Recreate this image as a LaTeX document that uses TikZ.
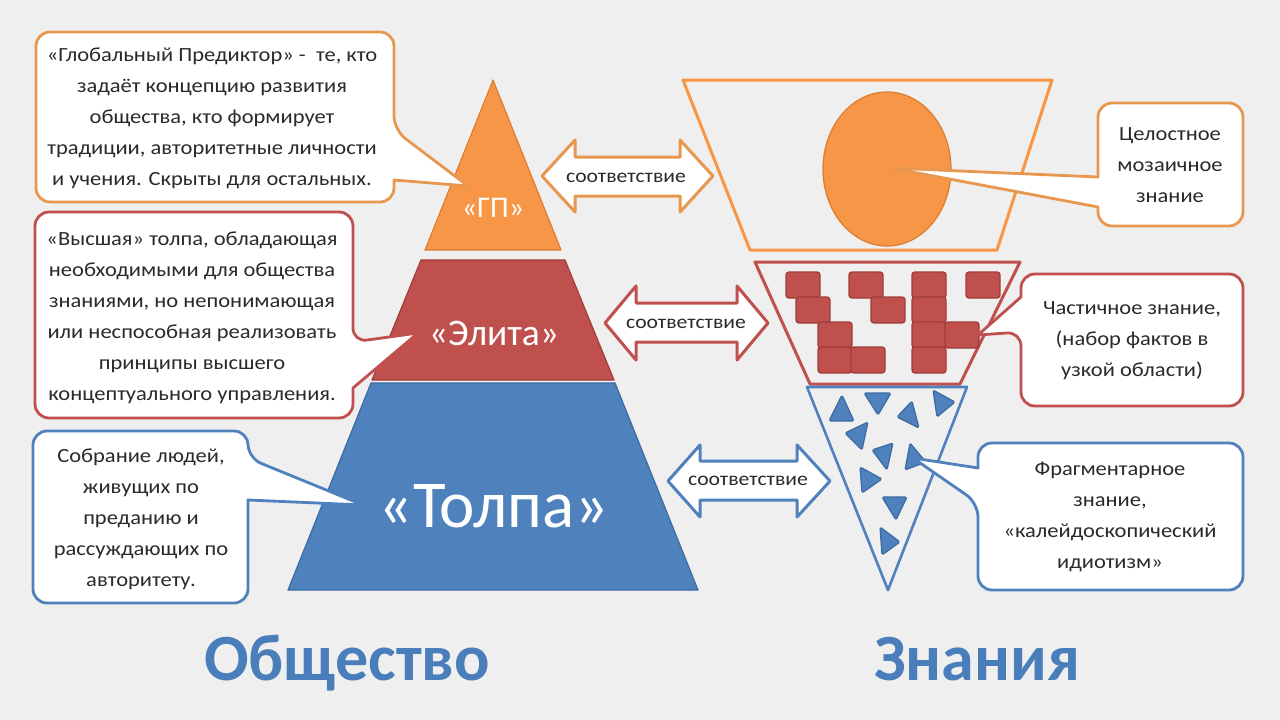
\documentclass[tikz,border=0pt]{standalone}
\usepackage{fontspec}
\setmainfont{Carlito}
\newfontfamily\cf[FakeStretch=1.12]{Carlito}
\definecolor{bg}{HTML}{EFEFEF}
\definecolor{org}{HTML}{F79646}
\definecolor{orgD}{HTML}{DD7F33}
\definecolor{orgL}{HTML}{E8984E}
\definecolor{redF}{HTML}{C0504D}
\definecolor{redD}{HTML}{A03D3A}
\definecolor{bluF}{HTML}{4F81BD}
\definecolor{bluD}{HTML}{3C6AA3}
\definecolor{txt}{HTML}{2A2A2A}
\definecolor{ttl}{HTML}{4A7EBB}
\newcommand\mytile[2]{\filldraw[tilestyle] (#1,#2) rectangle ++(34,26);}
\newcommand\mytri[3]{\filldraw[tristyle] #1 -- #2 -- #3 -- cycle;}
\tikzset{
  tilestyle/.style={fill=redF, draw=redD, line width=1.4, rounded corners=3},
  tristyle/.style={fill=bluF, draw=bluD, line width=1.2, rounded corners=1.5, line join=round},
  pyr/.style={line width=1.2, line join=round},
  funnel/.style={line width=3, line join=round},
  callO/.style={fill=white, draw=orgL, line width=2.8, line join=round},
  callR/.style={fill=white, draw=redF, line width=2.8, line join=round},
  callB/.style={fill=white, draw=bluF, line width=2.8, line join=round},
  calltext/.style={align=center, text=txt, font=\cf\fontsize{20.1}{31}\selectfont, inner sep=0},
  arrtext/.style={text=txt, font=\cf\fontsize{19.3}{22}\selectfont, inner sep=0},
  lvl/.style={text=white, anchor=base, inner sep=0},
  ttlstyle/.style={text=ttl, anchor=base, inner sep=0, font=\bfseries\fontsize{66}{72}\selectfont}
}
\begin{document}
\begin{tikzpicture}[x=1pt,y=-1pt]
\fill[bg] (0,0) rectangle (1280,720);
\useasboundingbox (0,0) rectangle (1280,720);

% ---------- pyramid ----------
\filldraw[pyr, fill=org, draw=orgD] (493,80) -- (561,250) -- (425,250) -- cycle;
\filldraw[pyr, fill=redF, draw=redD] (421,260) -- (565,260) -- (614,380) -- (372,380) -- cycle;
\filldraw[pyr, fill=bluF, draw=bluD] (371,383) -- (615,383) -- (698,590) -- (288,590) -- cycle;
\node[lvl, font=\fontsize{30}{32}\selectfont] (gp) at (493,217) {«ГП»};
\node[lvl, font=\fontsize{37.5}{40}\selectfont] (elita) at (494,345) {«Элита»};
\node[lvl, font=\fontsize{67}{72}\selectfont] (tolpa) at (494,527) {«Толпа»};

% ---------- funnel ----------
\draw[funnel, draw=org] (683,80) -- (1052,80) -- (997,250) -- (750,250) -- cycle;
\draw[funnel, draw=redF] (755,262) -- (1020,262) -- (960,384) -- (810,384) -- cycle;
\draw[funnel, draw=bluF, line width=2.6] (807,387) -- (967,387) -- (888,590) -- cycle;

\filldraw[fill=org, draw=orgD, line width=1.3] (887,169) ellipse [x radius=64, y radius=77];

% tiles
\mytile{786}{272}\mytile{796}{297}\mytile{818}{322}\mytile{818}{347}\mytile{851}{347}
\mytile{849}{272}\mytile{871}{297}
\mytile{912}{272}\mytile{912}{297}\mytile{912}{322}\mytile{912}{347}\mytile{945}{322}
\mytile{966}{272}

% triangles
\mytri{(842,395)}{(854,421)}{(829,421)}
\mytri{(864,393)}{(891,393)}{(878,415)}
\mytri{(912,401)}{(897,417)}{(919,428)}
\mytri{(933,390)}{(955,402)}{(937,417)}
\mytri{(868,422)}{(845,433)}{(862,450)}
\mytri{(872,450)}{(893,443)}{(887,470)}
\mytri{(910,443)}{(926,462)}{(905,470)}
\mytri{(860,467)}{(882,479)}{(862,493)}
\mytri{(882,497)}{(907,497)}{(896,520)}
\mytri{(880,527)}{(900,542)}{(882,555)}

% ---------- correspondence arrows ----------
\filldraw[fill=white, draw=orgL, line width=3, line join=round]
  (542,176) -- (575,140) -- (575,157) -- (680,157) -- (680,140) -- (713,176)
  -- (680,212) -- (680,196) -- (575,196) -- (575,212) -- cycle;
\node[arrtext] (a1) at (626,178) {соответствие};
\filldraw[fill=white, draw=redF, line width=3, line join=round]
  (605,323) -- (636,286) -- (636,303) -- (737,303) -- (737,286) -- (768,323)
  -- (737,360) -- (737,342) -- (636,342) -- (636,360) -- cycle;
\node[arrtext] (a2) at (686,324) {соответствие};
\filldraw[fill=white, draw=bluF, line width=3, line join=round]
  (668,481) -- (700,445) -- (700,461) -- (797,461) -- (797,445) -- (830,481)
  -- (797,517) -- (797,500) -- (700,500) -- (700,517) -- cycle;
\node[arrtext] (a3) at (748,481) {соответствие};

% ---------- callouts ----------
% left orange
\filldraw[callO] [rounded corners=14] (36,32) -- (394,32) -- (394,130) [sharp corners] -- (468,186) -- (394,180) [rounded corners=14] -- (394,202) -- (36,202) -- cycle;
\node[calltext] (c1) at (212,118) {«Глобальный Предиктор» -\ \ те, кто\\задаёт концепцию развития\\общества, кто формирует\\традиции, авторитетные личности\\и учения. Скрыты для остальных.};
% left red
\filldraw[callR] [rounded corners=14] (35,212) -- (353,212) -- (353,342) [sharp corners] -- (418,333) -- (353,388) [rounded corners=14] -- (353,418) -- (35,418) -- cycle;
\node[calltext] (c2) at (192,318) {«Высшая» толпа, обладающая\\необходимыми для общества\\знаниями, но непонимающая\\или неспособная реализовать\\принципы высшего\\концептуального управления.};
% left blue
\filldraw[callB] [rounded corners=14] (33,431) -- (248,431) -- (248,458) [sharp corners] -- (363,505) -- (248,500) [rounded corners=14] -- (248,603) -- (33,603) -- cycle;
\node[calltext] (c3) at (141,519) {Собрание людей,\\живущих по\\преданию и\\рассуждающих по\\авторитету.};
% right orange
\filldraw[callO] [rounded corners=14] (1098,103) -- (1243,103) -- (1243,226) -- (1098,226) [sharp corners] -- (1098,207) -- (891,168) -- (1098,177) [rounded corners=14] -- cycle;
\node[calltext] (c4) at (1170,165) {Целостное\\мозаичное\\знание};
% right red
\filldraw[callR] [rounded corners=14] (1021,274) -- (1243,274) -- (1243,406) -- (1021,406) -- (1021,332) [sharp corners] -- (978,335) -- (1021,297) [rounded corners=14] -- cycle;
\node[calltext] (c5) at (1132,341) {Частичное знание,\\(набор фактов в\\узкой области)};
% right blue
\filldraw[callB] [rounded corners=14] (978,443) -- (1243,443) -- (1243,590) -- (978,590) -- (978,503) [sharp corners] -- (913,458) -- (978,468) [rounded corners=14] -- cycle;
\node[calltext] (c6) at (1110,517) {Фрагментарное\\знание,\\«калейдоскопический\\идиотизм»};

% ---------- titles ----------
\node[ttlstyle] (soc) at (347,680) {Общество};
\node[ttlstyle] (kn) at (977,680) {Знания};
\end{tikzpicture}
\end{document}
